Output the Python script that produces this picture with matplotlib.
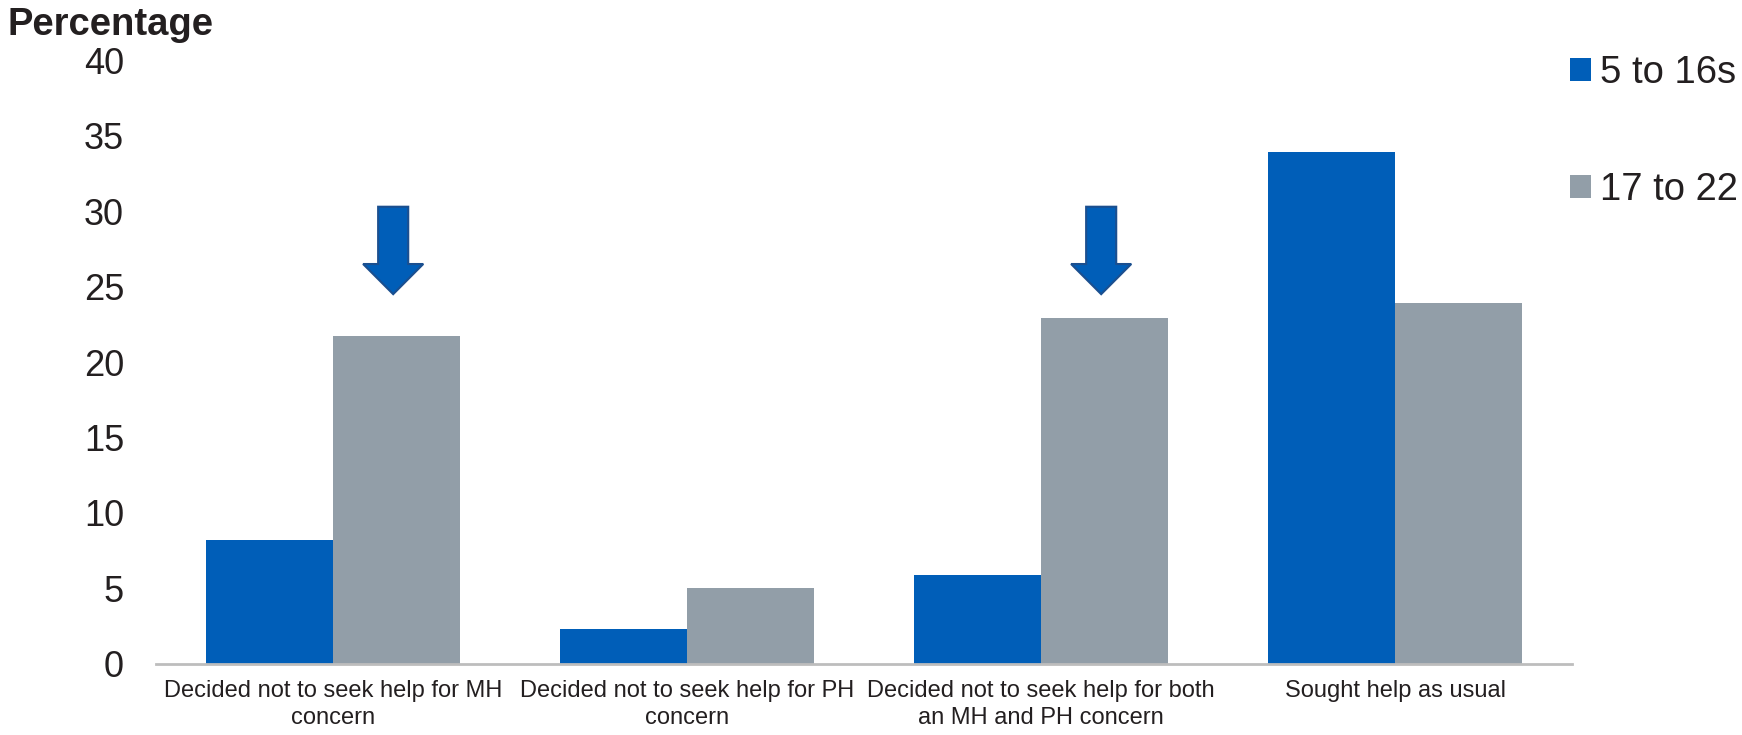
import matplotlib
matplotlib.use("Agg")
import matplotlib.pyplot as plt
from matplotlib.patches import FancyArrow
import numpy as np

plt.rcParams['font.family'] = ['Liberation Sans', 'DejaVu Sans']

categories = [
    "Decided not to seek help for MH\nconcern",
    "Decided not to seek help for PH\nconcern",
    "Decided not to seek help for both\nan MH and PH concern",
    "Sought help as usual",
]
series_names = ["5 to 16s", "17 to 22"]
values_5_16 = [8.2, 2.3, 5.9, 33.9]
values_17_22 = [21.7, 5.0, 22.9, 23.9]
arrow_categories = [0, 2]
yticks = [0, 5, 10, 15, 20, 25, 30, 35, 40]

blue = "#005EB8"
grey = "#929EA8"
text_c = "#231F20"

fig = plt.figure(figsize=(17.42, 7.35), dpi=100)
ax = fig.add_axes([156/1742, 71.5/735, (1572-156)/1742, (663.5-60.5)/735])

x = np.arange(len(categories))
w = 0.36
ax.bar(x - w/2, values_5_16, width=w, color=blue, label=series_names[0], zorder=2)
ax.bar(x + w/2, values_17_22, width=w, color=grey, label=series_names[1], zorder=2)

for i in arrow_categories:
    arr = FancyArrow(i + 0.17, 30.3, 0, -5.8, width=0.085, head_width=0.17,
                     head_length=2.0, length_includes_head=True,
                     facecolor=blue, edgecolor="#1B4F8F", linewidth=1.5, zorder=3)
    ax.add_patch(arr)

ax.set_xlim(-0.5, 3.5)
ax.set_ylim(0, 40)
ax.set_yticks(yticks)
ax.set_yticklabels([str(t) for t in yticks], fontsize=26, color=text_c)
ax.set_xticks(x)
ax.set_xticklabels(categories, fontsize=17, color=text_c, linespacing=1.3)
ax.tick_params(axis='y', length=0, pad=23)
ax.tick_params(axis='x', length=0, pad=12)
for s in ['top', 'right', 'left']:
    ax.spines[s].set_visible(False)
ax.spines['bottom'].set_color("#BDBDBD")
ax.spines['bottom'].set_linewidth(2)

fig.text(7/1742, 1 - 35/735, "Percentage", fontsize=27.5, fontweight='bold',
         color=text_c, ha='left', va='baseline')

leg = fig.legend(loc='upper left', bbox_to_anchor=(1570/1742, 1 - 55/735),
                 frameon=False, fontsize=27.5, handlelength=0.54, handleheight=0.54,
                 handletextpad=0.25, labelspacing=2.12, borderpad=0, borderaxespad=0)
for t in leg.get_texts():
    t.set_color(text_c)

fig.savefig("out.png", dpi=100)
